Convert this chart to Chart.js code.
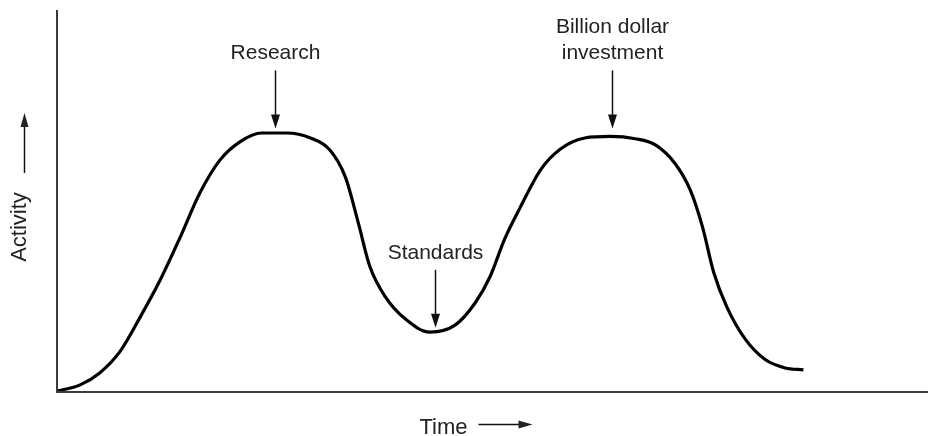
<!DOCTYPE html>
<html>
<head>
<meta charset="utf-8">
<script src="https://cdn.jsdelivr.net/npm/chart.js@4.4.1/dist/chart.umd.min.js"></script>
<style>
    html, body { margin: 0; padding: 0; background: #fff; }
    #wrap { width: 928px; height: 436px; }
</style>
</head>
<body>
<div id="wrap"><canvas id="lifeCycle"></canvas></div>
<script>

// curve (time 0-100, activity 0-100)
const timeValues = [0.1, 2.6, 4.9, 7.2, 9.5, 11.8, 14.1, 16.4, 18.7, 21.0, 23.5, 26.4, 29.1, 31.3, 33.1, 34.6, 35.9, 37.7, 40.0, 42.8, 45.7, 48.0, 49.7, 51.4, 53.2, 55.5, 57.8, 60.6, 63.5, 66.4, 68.7, 71.0, 72.7, 74.1, 75.4, 76.9, 79.0, 81.3, 83.6, 85.7];
const activityValues = [0.3, 1.8, 5.0, 10.5, 19.4, 29.1, 40.3, 52.1, 60.7, 65.5, 67.8, 67.8, 66.5, 63.4, 56.3, 44.2, 33.0, 24.9, 19.1, 15.7, 17.5, 23.3, 30.1, 40.1, 48.4, 58.1, 63.6, 66.5, 66.9, 66.3, 64.7, 59.7, 52.9, 43.3, 31.3, 22.3, 13.9, 8.5, 6.3, 5.8];

// callouts: text lines, time of the arrow, activity where the arrow tip sits
const calloutTexts = [["Research"], ["Standards"], ["Billion dollar", "investment"]];
const calloutTimes = [25.0, 43.4, 63.7];
const calloutTips = [69.0, 16.8, 69.0];

const xTitle = "Time";
const yTitle = "Activity";

const points = timeValues.map((t, i) => ({ x: t, y: activityValues[i] }));

const FONT = "'Liberation Sans', Arial, sans-serif";

function arrowDown(ctx, x, y0, y1){

    ctx.beginPath();
    ctx.moveTo(x, y0);
    ctx.lineTo(x, y1 - 10);
    ctx.stroke();

    ctx.beginPath();
    ctx.moveTo(x - 4.5, y1 - 14);
    ctx.lineTo(x + 4.5, y1 - 14);
    ctx.lineTo(x, y1);
    ctx.closePath();
    ctx.fill();

}

const decorations = {

    id: "decorations",

    afterDraw(chart){

        const ctx = chart.ctx;
        const area = chart.chartArea;
        const xs = chart.scales.x;
        const ys = chart.scales.y;

        ctx.save();

        // axes
        ctx.strokeStyle = "#3a3a3a";
        ctx.lineWidth = 2;
        ctx.beginPath();
        ctx.moveTo(area.left, area.top);
        ctx.lineTo(area.left, area.bottom);
        ctx.lineTo(area.right, area.bottom);
        ctx.stroke();

        // callouts
        ctx.strokeStyle = "#111";
        ctx.fillStyle = "#111";
        ctx.lineWidth = 1.5;
        ctx.font = "21px " + FONT;
        ctx.textAlign = "center";
        ctx.textBaseline = "middle";

        calloutTexts.forEach((lines, i) => {

            const px = Math.round(xs.getPixelForValue(calloutTimes[i])) + 0.5;
            const tip = ys.getPixelForValue(calloutTips[i]);
            const top = tip - 58;

            arrowDown(ctx, px, top, tip);

            ctx.fillStyle = "#222";
            lines.forEach((line, k) => {
                const y = top - 17 - (lines.length - 1 - k) * 26;
                ctx.fillText(line, px, y);
            });
            ctx.fillStyle = "#111";

        });

        // x title with arrow
        ctx.font = "22px " + FONT;
        ctx.textAlign = "right";
        ctx.fillStyle = "#222";
        const midX = (area.left + area.right) / 2;
        ctx.fillText(xTitle, midX - 25, area.bottom + 36);

        ctx.beginPath();
        ctx.moveTo(midX - 14, area.bottom + 32.5);
        ctx.lineTo(midX + 28, area.bottom + 32.5);
        ctx.stroke();
        ctx.beginPath();
        ctx.moveTo(midX + 26, area.bottom + 28.5);
        ctx.lineTo(midX + 40, area.bottom + 32.5);
        ctx.lineTo(midX + 26, area.bottom + 36.5);
        ctx.closePath();
        ctx.fill();

        // y title with arrow
        ctx.save();
        ctx.translate(20, 227);
        ctx.rotate(-Math.PI / 2);
        ctx.textAlign = "center";
        ctx.fillText(yTitle, 0, 0);
        ctx.restore();

        ctx.beginPath();
        ctx.moveTo(24.5, 173);
        ctx.lineTo(24.5, 124);
        ctx.stroke();
        ctx.beginPath();
        ctx.moveTo(20.5, 127);
        ctx.lineTo(24.5, 113);
        ctx.lineTo(28.5, 127);
        ctx.closePath();
        ctx.fill();

        ctx.restore();

    }

};

new Chart(document.getElementById("lifeCycle"), {

    type: "line",

    data: {
        datasets: [{
            data: points,
            borderColor: "#000",
            borderWidth: 3.2,
            pointRadius: 0,
            cubicInterpolationMode: "monotone",
            fill: false,
            clip: false
        }]
    },

    options: {

        responsive: true,
        maintainAspectRatio: false,
        animation: false,
        events: [],

        layout: {
            padding: { left: 57, top: 10, right: 0, bottom: 44 }
        },

        plugins: {
            legend: { display: false },
            tooltip: { enabled: false }
        },

        scales: {
            x: { type: "linear", min: 0, max: 100, display: false },
            y: { min: 0, max: 100, display: false }
        }

    },

    plugins: [decorations]

});

</script>
</body>
</html>
